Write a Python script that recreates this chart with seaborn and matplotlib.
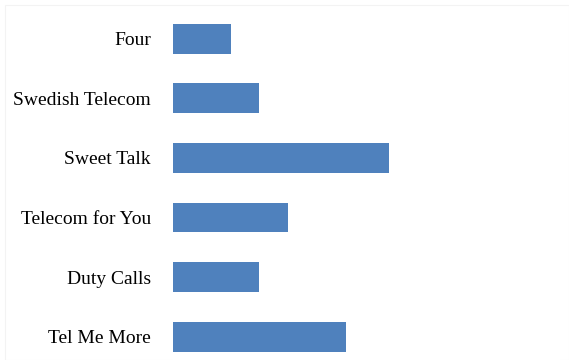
import matplotlib
matplotlib.use("Agg")
import matplotlib.pyplot as plt
import seaborn as sns
import pandas as pd
from matplotlib.patches import Rectangle

categories = ["Four", "Swedish Telecom", "Sweet Talk", "Telecom for You", "Duty Calls", "Tel Me More"]
values = [2, 3, 7.5, 4, 3, 6]

df = pd.DataFrame({"company": categories, "value": values})

sns.set_theme(style="white")
plt.rcParams["font.family"] = ["Liberation Serif", "DejaVu Serif"]

fig = plt.figure(figsize=(5.69, 3.60), dpi=100)
ax = fig.add_axes([173 / 569, 0.0, (560 - 173) / 569, (360 - 9.0) / 360])

sns.barplot(data=df, x="value", y="company", order=categories, color="#4F81BD",
            width=0.5, saturation=1, ax=ax, orient="h", linewidth=0)

ax.set_xlim(0, 13.45)
ax.set_ylim(5.39, -0.5)
ax.set_xlabel("")
ax.set_ylabel("")
ax.set_xticks([])
for s in ax.spines.values():
    s.set_visible(False)
ax.tick_params(axis="y", length=0, pad=16, labelsize=14, labelcolor="black")
for lbl in ax.get_yticklabels():
    lbl.set_fontfamily(["Liberation Serif", "DejaVu Serif"])

fig.patches.append(Rectangle((5 / 569, 0), 1 - 5 / 569, 1 - 5 / 360, transform=fig.transFigure,
                             fill=False, edgecolor="#f3f3f3", linewidth=0.8, zorder=-1))

fig.savefig("out.png", dpi=100, facecolor="white")
